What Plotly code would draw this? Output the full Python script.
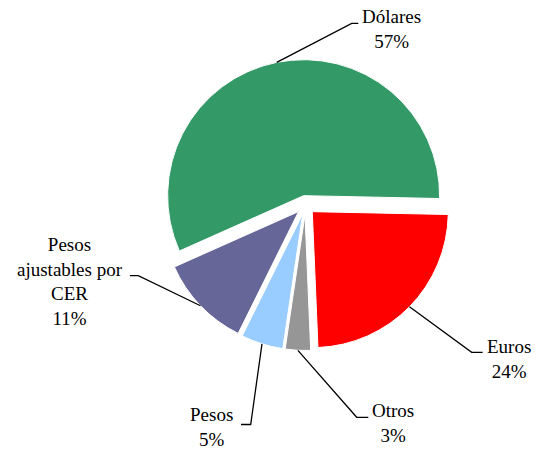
import math
import plotly.graph_objects as go

# ---------------- data ----------------
categories = ["Euros", "Otros", "Pesos", "Pesos ajustables por CER", "Dólares"]
display_names = ["Euros", "Otros", "Pesos", "Pesos<br>ajustables por<br>CER", "Dólares"]
values = [24, 3, 5, 11, 57]
colors = ["#FF0000", "#969696", "#99CCFF", "#666699", "#339966"]

# ---------------- layout constants (pixels) ----------------
W, H = 542, 452
CX, CY = 305.5, 205.0      # pie centre
R = 136.0                  # pie radius
PULL = 0.07
ROT = 91.2                 # start angle of first slice (clockwise from 12 o'clock)
FONT = "Liberation Serif, Times New Roman, serif"
FS = 19

# label leader-line elbow, line end, and text centre for each category
label_layout = {
    "Euros":   dict(elbow=(471.7, 352.3), end=(482.7, 352.3), text=(508.5, 358.5)),
    "Otros":   dict(elbow=(356.7, 417.3), end=(368.3, 417.3), text=(392.5, 423.0)),
    "Pesos":   dict(elbow=(250.7, 424.5), end=(241.0, 424.5), text=(211.5, 426.5)),
    "Pesos ajustables por CER": dict(elbow=(138.3, 275.7), end=(130.0, 275.7), text=(70.5, 281.0)),
    "Dólares": dict(elbow=(351.7, 23.3), end=(358.3, 23.3), text=(391.0, 29.5)),
}

def px(x):
    return x / W

def py(y):
    return 1 - y / H

half = R * (1 + PULL)
fig = go.Figure(go.Pie(
    labels=categories,
    values=values,
    marker=dict(colors=colors, line=dict(color="white", width=1)),
    sort=False,
    direction="clockwise",
    rotation=ROT,
    pull=[PULL] * len(values),
    textinfo="none",
    hoverinfo="label+percent",
    showlegend=False,
    domain=dict(x=[px(CX - half), px(CX + half)], y=[py(CY + half), py(CY - half)]),
))

total = sum(values)
cum = 0.0
shapes = []
annotations = []
for cat, name, v in zip(categories, display_names, values):
    mid = ROT + (cum + v / 2) / total * 360.0
    cum += v
    th = math.radians(mid)
    sx = CX + R * (1 + PULL) * math.sin(th)
    sy = CY - R * (1 + PULL) * math.cos(th)
    L = label_layout[cat]
    ex, ey = L["elbow"]
    fx, fy = L["end"]
    shapes.append(dict(
        type="path", xref="paper", yref="paper",
        path=f"M {px(sx)} {py(sy)} L {px(ex)} {py(ey)} L {px(fx)} {py(fy)}",
        line=dict(color="black", width=1.3),
    ))
    tx, ty = L["text"]
    pct = round(v / total * 100)
    annotations.append(dict(
        x=px(tx), y=py(ty), xref="paper", yref="paper",
        text=f"{name}<br>{pct}%", showarrow=False,
        xanchor="center", yanchor="middle", align="center",
        font=dict(family=FONT, size=FS, color="black"),
    ))

fig.update_layout(
    width=W, height=H,
    margin=dict(l=0, r=0, t=0, b=0),
    paper_bgcolor="white", plot_bgcolor="white",
    shapes=shapes, annotations=annotations,
)

fig.write_html(
    "out.html",
    config={"displayModeBar": False},
    post_script="document.body.style.margin='0px';document.body.style.overflow='hidden';",
)
